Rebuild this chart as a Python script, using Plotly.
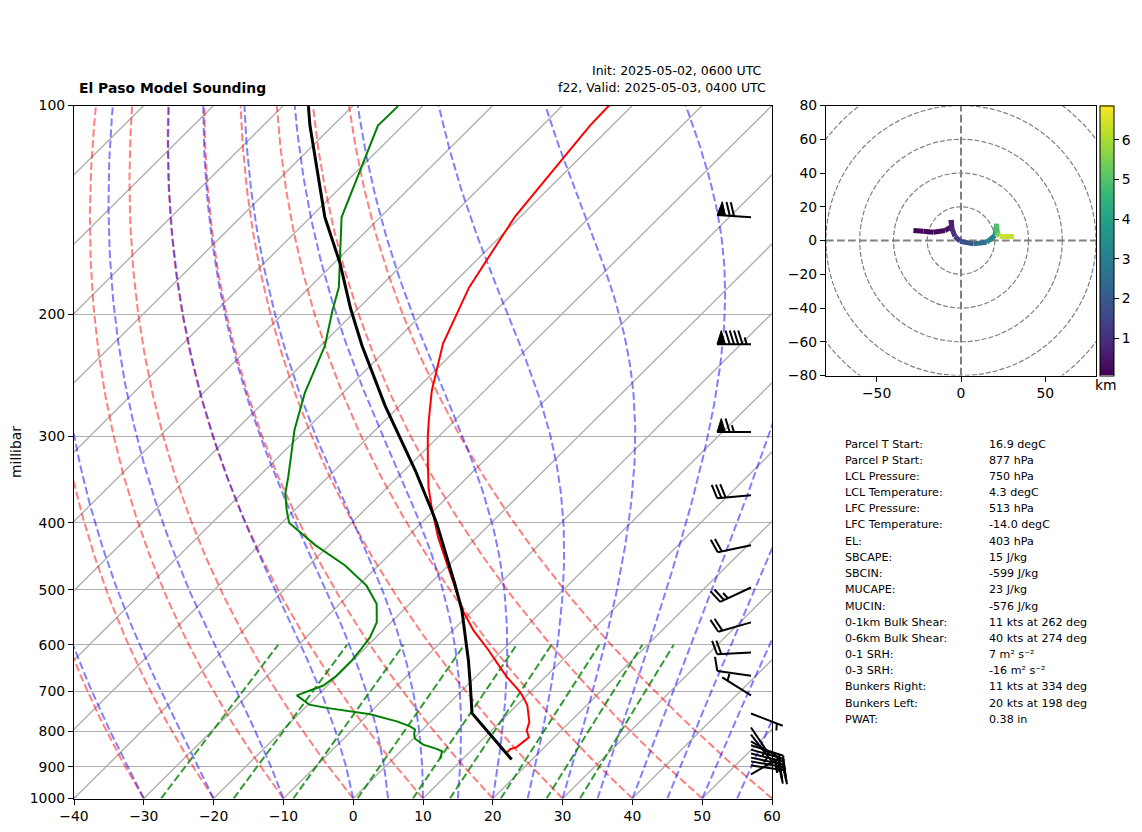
import math
import numpy as np
import plotly.graph_objects as go
from plotly.colors import sample_colorscale

# ---------- data ----------
temp_p = [857.5,849,843,829,816,798,776,734,722,702,668,643,611,572,538,504,458,420,380,356,329,301,285,258,220.5,183,144.6,106.9,100]
temp_c = [15.4,15.35,16.0,16.25,16.35,15.05,14.22,11.52,10.47,8.56,4.5,1.7,-2.0,-7.03,-11.11,-14.94,-20.52,-25.51,-30.78,-34.06,-37.58,-41.46,-43.69,-47.58,-52.79,-57.15,-60.8,-63.18,-63.35]
dew_p = [877,855,848,836,820,807,795,787,774,756,740,732,710,687,665,632,611,585,557,524,493,461,430.5,415,400,384,363,344,315,294,259.5,222,198,183,145,106.9,100.2]
dew_c = [6.75,5.94,4.79,2.25,0.24,-0.59,-1.11,-2.25,-4.88,-9.71,-16.89,-19.85,-22.95,-20.58,-20.11,-20.12,-20.39,-20.87,-22.04,-24.7,-28.81,-34.79,-42.08,-45.58,-48.98,-51.09,-53.74,-55.66,-59.03,-61.58,-65.5,-69.41,-73.32,-75.81,-85.53,-93.56,-93.48]
parcel_p = [878.6,753,682,632,605,535,490,439,401,384,336,271,222,196,169,145,106.9,100.2]
parcel_c = [17.08,4.7,0.14,-3.42,-5.57,-11.59,-16.42,-22.64,-27.72,-30.31,-38.48,-52.14,-64.11,-71.17,-79.09,-87.92,-103.3,-106.33]

wind_p = [145,221,296,365,431,496,557,615.5,665,710,754,790,809,827,838,850,861,873,884,896,923]
wind_dir = [274,270,270,265,258,245,254,267,278,302,111,146,142,120,108,106,104,102,100,98,60]
wind_kt = [70,95,65,30,20,25,20,20,10,5,5,5,5,10,20,20,25,25,25,20,5]

hodo_u = [-28.2,-22.3,-16.4,-9.5,-5.5,-5.9,-5.3,-3.6,-0.6,7.3,15.2,20.1,21.1,21.5,22.7,31.4]
hodo_v = [5.9,5.5,4.9,5.9,8.3,12.2,6.9,2.4,-0.4,-2,-1,3,9.9,4.9,2.4,2.4]
hodo_km = [0.06,0.1,0.2,0.35,0.5,0.65,0.75,1.1,1.5,2.2,2.9,3.5,4.7,5.2,5.8,6.8]
hodo_radii = [20,40,60,80,100]

table_labels = ["Parcel T Start:","Parcel P Start:","LCL Pressure:","LCL Temperature:","LFC Pressure:","LFC Temperature:","EL:","SBCAPE:","SBCIN:","MUCAPE:","MUCIN:","0-1km Bulk Shear:","0-6km Bulk Shear:","0-1 SRH:","0-3 SRH:","Bunkers Right:","Bunkers Left:","PWAT:"]
table_values = ["16.9 degC","877 hPa","750 hPa","4.3 degC","513 hPa","-14.0 degC","403 hPa","15 J/kg","-599 J/kg","23 J/kg","-576 J/kg","11 kts at 262 deg","40 kts at 274 deg","7 m² s⁻²","-16 m² s⁻²","11 kts at 334 deg","20 kts at 198 deg","0.38 in"]

isotherm_c = list(range(-140, 61, 10))
isobar_hpa = [100,200,300,400,500,600,700,800,900,1000]
dry_c = list(range(-30, 61, 10))
moist_c = [-40,-30,-20,-10,0,5,10,15,20,25,30,35,40,45,50,55,60]
mixing_ratio = [0.0004,0.001,0.002,0.004,0.007,0.01,0.016,0.024,0.032]

FONT = "DejaVu Sans"
W, H = 1142, 832
L, R, T_, B = 74, 772, 105.5, 798.5
HL, HR, HT, HB = 826, 1096, 105.5, 375.5

def skew(t, p):
    return np.asarray(t, float) + 100*np.log10(1000/np.asarray(p, float))

def es(tk):
    return 6.112*np.exp(17.67*(tk-273.15)/(tk-29.65))

def moist_curve(t0, plev):
    Rd, cp, Lv, eps = 287.05, 1005.0, 2.50084e6, 0.622
    def f(lnp, tk):
        p = math.exp(lnp)
        e = es(tk)
        rs = eps*e/(p-e)
        return (Rd*tk+Lv*rs)/(cp+Lv*Lv*rs*eps/(Rd*tk*tk))
    out = [t0+273.15]
    for a, b in zip(plev[:-1], plev[1:]):
        x, h, y = math.log(a), math.log(b)-math.log(a), out[-1]
        k1 = f(x, y); k2 = f(x+h/2, y+h*k1/2); k3 = f(x+h/2, y+h*k2/2); k4 = f(x+h, y+h*k3)
        out.append(y+h*(k1+2*k2+2*k3+k4)/6)
    return np.array(out)-273.15

fig = go.Figure()
plev = np.logspace(3, 2, 120)

GRID = "rgb(176,176,176)"
iso_x, iso_y = [], []
for t in isotherm_c:
    iso_x += [float(skew(t, 1000)), float(skew(t, 100)), None]
    iso_y += [1000, 100, None]
fig.add_trace(go.Scatter(x=iso_x, y=iso_y, mode="lines", line=dict(color=GRID, width=1.4), hoverinfo="skip"))

for t0 in dry_c:
    tc = (t0+273.15)*(plev/1000)**0.2857 - 273.15
    fig.add_trace(go.Scatter(x=skew(tc, plev), y=plev, mode="lines", hoverinfo="skip",
                             line=dict(color="rgba(255,0,0,0.5)", width=2, dash="7.7px,3.3px")))
for t0 in moist_c:
    tc = moist_curve(t0, plev)
    fig.add_trace(go.Scatter(x=skew(tc, plev), y=plev, mode="lines", hoverinfo="skip",
                             line=dict(color="rgba(0,0,255,0.5)", width=2, dash="7.7px,3.3px")))
for w in mixing_ratio:
    ps = np.array([1000.0, 600.0])
    val = np.log(ps*w/(0.622+w)/6.112)
    td = 243.5*val/(17.67-val)
    fig.add_trace(go.Scatter(x=skew(td, ps), y=ps, mode="lines", hoverinfo="skip",
                             line=dict(color="rgba(0,128,0,0.8)", width=2, dash="7.7px,3.3px")))

fig.add_trace(go.Scatter(x=skew(temp_c, temp_p), y=temp_p, mode="lines", hoverinfo="skip", line=dict(color="red", width=2)))
fig.add_trace(go.Scatter(x=skew(dew_c, dew_p), y=dew_p, mode="lines", hoverinfo="skip", line=dict(color="green", width=2)))
fig.add_trace(go.Scatter(x=skew(parcel_c, parcel_p), y=parcel_p, mode="lines", hoverinfo="skip", line=dict(color="black", width=3)))

# hodograph, one short line per height step
cmin, cmax = 0.06, 6.86
for i in range(len(hodo_u)-1):
    mid = (hodo_km[i]+hodo_km[i+1])/2
    col = sample_colorscale("Viridis", [(mid-cmin)/(cmax-cmin)])[0]
    fig.add_trace(go.Scatter(x=hodo_u[i:i+2], y=hodo_v[i:i+2], xaxis="x2", yaxis="y2", mode="lines",
                             hoverinfo="skip", line=dict(color=col, width=5)))
fig.add_trace(go.Scatter(x=hodo_u, y=hodo_v, xaxis="x2", yaxis="y2", mode="markers", hoverinfo="skip",
                         marker=dict(size=1, opacity=0, color=hodo_km, colorscale="Viridis", cmin=cmin, cmax=cmax,
                                     showscale=True,
                                     colorbar=dict(x=1100/W, xanchor="left", xpad=0, y=1-HT/H, yanchor="top", ypad=0,
                                                   len=HB-HT, lenmode="pixels", thickness=14, thicknessmode="pixels",
                                                   outlinecolor="black", outlinewidth=1,
                                                   tickmode="array", tickvals=[1,2,3,4,5,6], ticks="outside", ticklen=5,
                                                   tickcolor="black", tickfont=dict(family=FONT, size=13.9, color="black")))))

# wind barbs, drawn on a full-figure pixel axis so they can pass the frame
BL = 34.0
sp, hgt, wid = 0.125*BL, 0.4*BL, 0.25*BL
bx, by, fx, fy = [], [], [], []
for p, d, s in zip(wind_p, wind_dir, wind_kt):
    y0 = T_ + (B-T_)*math.log10(p/100)
    x0 = 751.0
    ux, uy = math.sin(math.radians(d)), -math.cos(math.radians(d))
    nx, ny = -uy, ux
    pt = lambda a, b: (x0+a*ux+b*nx, y0+a*uy+b*ny)
    bx += [x0, x0+BL*ux, None]; by += [y0, y0+BL*uy, None]
    rounded = int(5*round(s/5))
    flags, rest = divmod(rounded, 50)
    full, half = divmod(rest, 10)
    half = half >= 5
    off = BL
    for _ in range(flags):
        tri = [pt(off, 0), pt(off-wid/2, hgt), pt(off-wid, 0), pt(off, 0)]
        fx += [q[0] for q in tri]+[None]; fy += [q[1] for q in tri]+[None]
        off -= wid+sp
    for _ in range(full):
        a, b = pt(off, 0), pt(off+wid/2, hgt)
        bx += [a[0], b[0], None]; by += [a[1], b[1], None]
        off -= sp
    if half:
        if off == BL:
            off -= 1.5*sp
        a, b = pt(off, 0), pt(off+wid/4, hgt/2)
        bx += [a[0], b[0], None]; by += [a[1], b[1], None]
fig.add_trace(go.Scatter(x=bx, y=by, xaxis="x3", yaxis="y3", mode="lines", hoverinfo="skip", line=dict(color="black", width=2)))
fig.add_trace(go.Scatter(x=fx, y=fy, xaxis="x3", yaxis="y3", mode="lines", fill="toself", fillcolor="black", hoverinfo="skip", line=dict(color="black", width=1)))

def axis_common():
    return dict(showline=True, mirror=True, linecolor="black", linewidth=1.2, ticks="outside", ticklen=5, tickwidth=1,
                tickcolor="black", tickfont=dict(family=FONT, size=13.9, color="black"), zeroline=False, showgrid=False, fixedrange=True)

shapes = [dict(type="circle", xref="x2", yref="y2", x0=-r, x1=r, y0=-r, y1=r, layer="below",
               line=dict(color="gray", width=1.2, dash="5px,2px")) for r in hodo_radii]
shapes += [dict(type="line", xref="x2", yref="y2", x0=-80, x1=80, y0=0, y1=0, layer="below", line=dict(color="gray", width=2, dash="7.7px,3.3px")),
           dict(type="line", xref="x2", yref="y2", x0=0, x1=0, y0=-80, y1=80, layer="below", line=dict(color="gray", width=2, dash="7.7px,3.3px"))]

def note(x, y, text, size=11.1, anchor="left", **kw):
    shift = {"left": -2, "right": 2, "center": 0}[anchor]
    return dict(x=x, y=y, xref="x3", yref="y3", text=text, showarrow=False, xanchor=anchor, yanchor="middle", xshift=shift,
                font=dict(family=FONT, size=size, color="black"), **kw)

ann = [note(79, 88, "<b>El Paso Model Sounding</b>", size=13.9),
       note(762, 70, "Init: 2025-05-02, 0600 UTC", size=12.5, anchor="right"),
       note(766, 87, "f22, Valid: 2025-05-03, 0400 UTC", size=12.5, anchor="right"),
       note(16, 452, "millibar", size=13.9, anchor="center", textangle=-90),
       note(1106, 385, "km", size=13.9, anchor="center")]
rows_y = [444,460,476,492,508,524,541,557,573,589,606,622,638,654,670,686,703,719]
for lab, val, ry in zip(table_labels, table_values, rows_y):
    ann.append(note(845, ry, lab))
    ann.append(note(989, ry, val))

fig.update_layout(
    width=W, height=H, autosize=False, margin=dict(l=0, r=0, t=0, b=0), showlegend=False, template="none",
    paper_bgcolor="white", plot_bgcolor="rgba(0,0,0,0)", shapes=shapes, annotations=ann,
    xaxis=dict(domain=[L/W, R/W], range=[-40, 60], tickmode="array", tickvals=list(range(-40, 61, 10)), anchor="y", **axis_common()),
    yaxis=dict(domain=[1-B/H, 1-T_/H], type="log", range=[3, 2], tickmode="array", tickvals=isobar_hpa,
               ticktext=[str(v) for v in isobar_hpa], anchor="x", **{**axis_common(), "showgrid": True}, gridcolor=GRID, gridwidth=1.4),
    xaxis2=dict(domain=[HL/W, HR/W], range=[-80, 80], tickmode="array", tickvals=[-50, 0, 50], anchor="y2", **axis_common()),
    yaxis2=dict(domain=[1-HB/H, 1-HT/H], range=[-80, 80], tickmode="array", tickvals=list(range(-80, 81, 20)), anchor="x2", **axis_common()),
    xaxis3=dict(domain=[0, 1], range=[0, W], visible=False, anchor="y3", fixedrange=True),
    yaxis3=dict(domain=[0, 1], range=[H, 0], visible=False, anchor="x3", fixedrange=True),
)
fig.write_html("out.html", config=dict(displayModeBar=False),
               post_script="document.body.style.margin='0';document.documentElement.style.overflow='hidden';")
